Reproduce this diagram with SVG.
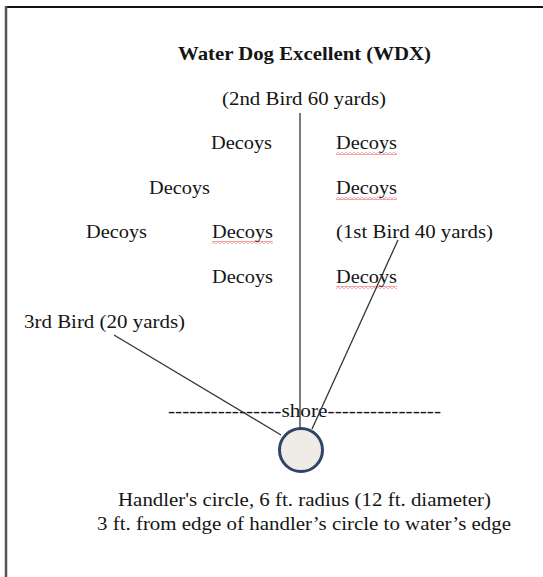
<svg xmlns="http://www.w3.org/2000/svg" width="543" height="577" viewBox="0 0 543 577">
<style>
text{font-family:"Liberation Serif","Times New Roman",serif;font-size:19px;fill:#151515}
.b{font-weight:bold}
.conn{stroke:#333;stroke-width:1.3;fill:none}
.sq{fill:url(#wavy)}
</style>
<defs>
<pattern id="wavy" width="4" height="3" patternUnits="userSpaceOnUse">
<path d="M0,0.6 L2,2.4 L4,0.6" stroke="#e03030" stroke-width="0.8" fill="none"/>
</pattern>
</defs>
<rect width="543" height="577" fill="#fff"/>
<g id="frame">
<line x1="6" y1="7" x2="543" y2="7" stroke="#111" stroke-width="2"/>
<line x1="6" y1="6" x2="6" y2="577" stroke="#555" stroke-width="2.5"/>
</g>
<g id="title"><text class="b" x="178" y="60" textLength="253" lengthAdjust="spacingAndGlyphs">Water Dog Excellent (WDX)</text></g>
<g id="bird2"><text x="222" y="105" textLength="164" lengthAdjust="spacingAndGlyphs">(2nd Bird 60 yards)</text></g>
<g id="decoys">
<text x="211" y="149" textLength="61" lengthAdjust="spacingAndGlyphs">Decoys</text>
<text x="336" y="149" textLength="61" lengthAdjust="spacingAndGlyphs">Decoys</text>
<rect class="sq" x="336" y="152" width="61" height="3"/>
<text x="149" y="194" textLength="61" lengthAdjust="spacingAndGlyphs">Decoys</text>
<text x="336" y="194" textLength="61" lengthAdjust="spacingAndGlyphs">Decoys</text>
<rect class="sq" x="336" y="197" width="61" height="3"/>
<text x="86" y="238" textLength="61" lengthAdjust="spacingAndGlyphs">Decoys</text>
<text x="212" y="238" textLength="61" lengthAdjust="spacingAndGlyphs">Decoys</text>
<rect class="sq" x="212" y="241" width="61" height="3"/>
<text x="212" y="283" textLength="61" lengthAdjust="spacingAndGlyphs">Decoys</text>
<text x="336" y="283" textLength="61" lengthAdjust="spacingAndGlyphs">Decoys</text>
<rect class="sq" x="336" y="286" width="61" height="3"/>
</g>
<g id="bird1"><text x="336" y="238" textLength="157" lengthAdjust="spacingAndGlyphs">(1st Bird 40 yards)</text></g>
<g id="bird3"><text x="24" y="328" textLength="161" lengthAdjust="spacingAndGlyphs">3rd Bird (20 yards)</text></g>
<g id="shore"><text x="168" y="417" textLength="273" lengthAdjust="spacingAndGlyphs">----------------shore----------------</text></g>
<g id="connectors">
<line class="conn" x1="300" y1="113" x2="300" y2="428"/>
<line class="conn" x1="114" y1="335" x2="281" y2="435"/>
<line class="conn" x1="398" y1="240" x2="312" y2="429"/>
</g>
<g id="handler">
<circle cx="301" cy="450" r="21.5" fill="#eeece4" stroke="#2f4468" stroke-width="3"/>
</g>
<g id="caption">
<text x="118" y="506" textLength="373" lengthAdjust="spacingAndGlyphs">Handler's circle, 6 ft. radius (12 ft. diameter)</text>
<text x="97" y="530" textLength="414" lengthAdjust="spacingAndGlyphs">3 ft. from edge of handler’s circle to water’s edge</text>
</g>
</svg>
